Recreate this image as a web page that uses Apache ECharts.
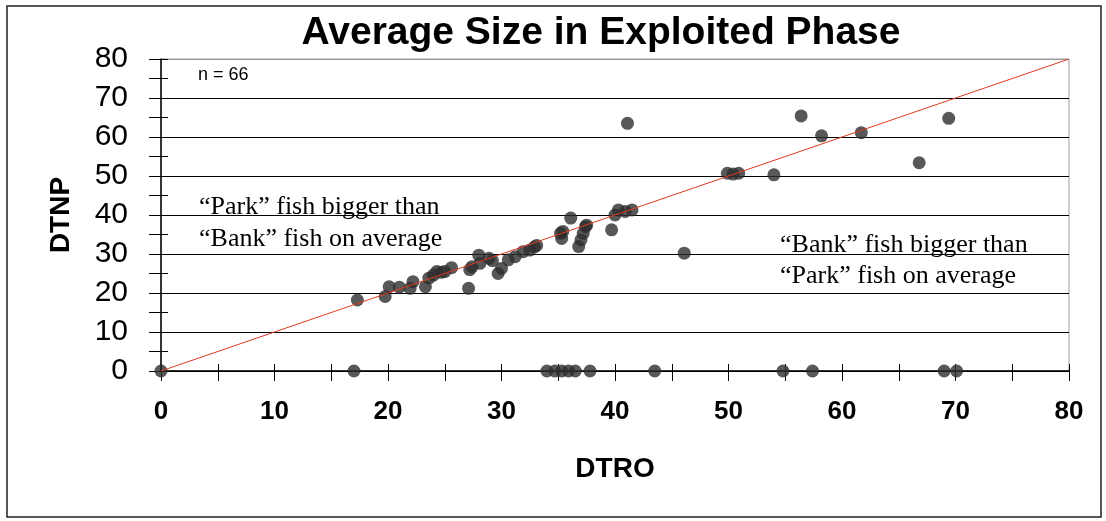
<!DOCTYPE html>
<html>
<head>
<meta charset="utf-8">
<script src="https://cdn.jsdelivr.net/npm/echarts@6/dist/echarts.min.js"></script>
<style>
html,body{margin:0;padding:0;background:#fff;}
#chart{width:1106px;height:521px;}
</style>
</head>
<body>
<div id="chart"></div>
<script>
// DTRO (x) vs DTNP (y), n = 66
const dtro = [0, 17, 34.0, 34.7, 35.3, 35.9, 36.5, 37.8, 43.5, 54.8, 57.4, 69.0, 70.1,
  17.3, 19.75, 20.1, 21.0, 21.95, 22.2, 23.3, 23.6, 24.0, 24.3, 24.7, 25.0, 25.6, 27.1, 27.2, 27.4,
  28.0, 28.1, 28.9, 29.2, 29.7, 30.0, 30.6, 31.2, 31.9, 32.5, 32.9, 35.2, 35.3, 35.4, 36.1, 36.8,
  37.0, 37.2, 37.4, 37.5, 39.7, 40.0, 40.3, 40.9, 41.5, 46.1, 41.1, 49.9, 50.4, 50.9, 54.0, 56.4,
  58.2, 61.7, 66.8, 69.4, 33.1];
const dtnp = [0, 0, 0, 0, 0, 0, 0, 0, 0, 0, 0, 0, 0,
  18.2, 19.1, 21.6, 21.5, 21.2, 22.9, 21.6, 23.8, 24.6, 25.5, 25.3, 25.5, 26.5, 21.2, 26.0, 26.7,
  29.7, 27.6, 28.9, 28.3, 25.0, 26.3, 28.5, 29.3, 30.6, 31.0, 31.8, 35.3, 34.0, 35.8, 39.2, 31.9,
  33.6, 35.3, 37.0, 37.4, 36.2, 40.0, 41.3, 40.9, 41.3, 30.2, 63.5, 50.7, 50.5, 50.7, 50.3, 65.4,
  60.3, 61.1, 53.4, 64.8, 32.2];
const lineX = [0, 80];
const lineY = [0, 80];
const xTicks = [0, 10, 20, 30, 40, 50, 60, 70, 80];
const yTicks = [0, 10, 20, 30, 40, 50, 60, 70, 80];
const titleText = 'Average Size in Exploited Phase';
const xName = 'DTRO';
const yName = 'DTNP';
const noteN = 'n = 66';
const noteLeft = ['\u201CPark\u201D fish bigger than', '\u201CBank\u201D fish on average'];
const noteRight = ['\u201CBank\u201D fish bigger than', '\u201CPark\u201D fish on average'];

const points = dtro.map((x, i) => [x, dtnp[i]]);
const diag = lineX.map((x, i) => [x, lineY[i]]);

const chart = echarts.init(document.getElementById('chart'), null, {renderer: 'canvas'});
const axMin = xTicks[0], axMax = xTicks[xTicks.length - 1];
const yMin = yTicks[0], yMax = yTicks[yTicks.length - 1];
const sans = 'Liberation Sans, Arial, sans-serif';
const serif = 'Liberation Serif, Times New Roman, serif';

const gridColors = yTicks.map((v, i) => i === yTicks.length - 1 ? '#9a9a9a' : '#000');

chart.setOption({
  animation: false,
  backgroundColor: '#fff',
  title: {
    text: titleText,
    left: 596, top: 9, textAlign: 'center',
    textStyle: {fontFamily: sans, fontWeight: 'bold', fontSize: 39, color: '#000'}
  },
  grid: {left: 161, right: 37, top: 59, bottom: 150, show: true, borderColor: '#9a9a9a', borderWidth: 1, backgroundColor: 'transparent'},
  xAxis: [
    {
      type: 'value', min: axMin, max: axMax, interval: 5, position: 'bottom',
      name: xName, nameLocation: 'middle', nameGap: 84,
      nameTextStyle: {fontFamily: sans, fontWeight: 'bold', fontSize: 28, color: '#000'},
      axisLine: {show: true, onZero: false, lineStyle: {color: '#000', width: 1.5}},
      axisTick: {show: true, inside: false, length: 10, lineStyle: {color: '#000', width: 1}},
      axisLabel: {margin: 28, fontFamily: sans, fontWeight: 'bold', fontSize: 26, color: '#000',
        formatter: v => (xTicks.indexOf(v) >= 0 ? String(v) : '')},
      splitLine: {show: false}
    },
    {
      type: 'value', min: axMin, max: axMax, interval: 5, position: 'bottom',
      axisLine: {show: false, onZero: false},
      axisTick: {show: true, inside: true, length: 7, lineStyle: {color: '#000', width: 1}},
      axisLabel: {show: false}, splitLine: {show: false}
    }
  ],
  yAxis: [
    {
      type: 'value', min: yMin, max: yMax, interval: 5, position: 'left',
      name: yName, nameLocation: 'middle', nameGap: 86, nameRotate: 90,
      nameTextStyle: {fontFamily: sans, fontWeight: 'bold', fontSize: 28, color: '#000'},
      axisLine: {show: true, onZero: false, lineStyle: {color: '#000', width: 1.5}},
      axisTick: {show: true, inside: false, length: 12, lineStyle: {color: '#000', width: 1}},
      axisLabel: {margin: 33, fontFamily: sans, fontSize: 30, color: '#000',
        formatter: v => (yTicks.indexOf(v) >= 0 ? String(v) : '')},
      splitLine: {show: false}
    },
    {
      type: 'value', min: yMin, max: yMax, interval: 10, position: 'left',
      axisLine: {show: false, onZero: false}, axisTick: {show: false}, axisLabel: {show: false},
      splitLine: {show: true, lineStyle: {color: gridColors, width: 1.2}}
    },
    {
      type: 'value', min: yMin, max: yMax, interval: 5, position: 'left',
      axisLine: {show: false, onZero: false},
      axisTick: {show: true, inside: true, length: 7, lineStyle: {color: '#000', width: 1}},
      axisLabel: {show: false}, splitLine: {show: false}
    }
  ],
  series: [
    {
      type: 'scatter', xAxisIndex: 0, yAxisIndex: 0, data: points,
      symbol: 'circle', symbolSize: 13, itemStyle: {color: '#2e2e2e'}, z: 3
    },
    {
      type: 'line', xAxisIndex: 0, yAxisIndex: 0, data: diag, showSymbol: false, symbol: 'none',
      lineStyle: {color: '#dd3b1c', width: 1}, z: 4, silent: true
    }
  ],
  graphic: [
    {type: 'rect', shape: {x: 7, y: 6, width: 1094, height: 511}, style: {fill: null, stroke: '#222', lineWidth: 1.5}, z: 100, silent: true},
    {type: 'text', left: 198, top: 66, style: {text: noteN, font: '18px ' + sans, fill: '#000'}},
    {type: 'text', left: 199, top: 191, style: {text: noteLeft.join('\n'), font: '26px ' + serif, lineHeight: 32, fill: '#000'}},
    {type: 'text', left: 780, top: 230, style: {text: noteRight.join('\n'), font: '26px ' + serif, lineHeight: 31, fill: '#000'}}
  ]
});
</script>
</body>
</html>
